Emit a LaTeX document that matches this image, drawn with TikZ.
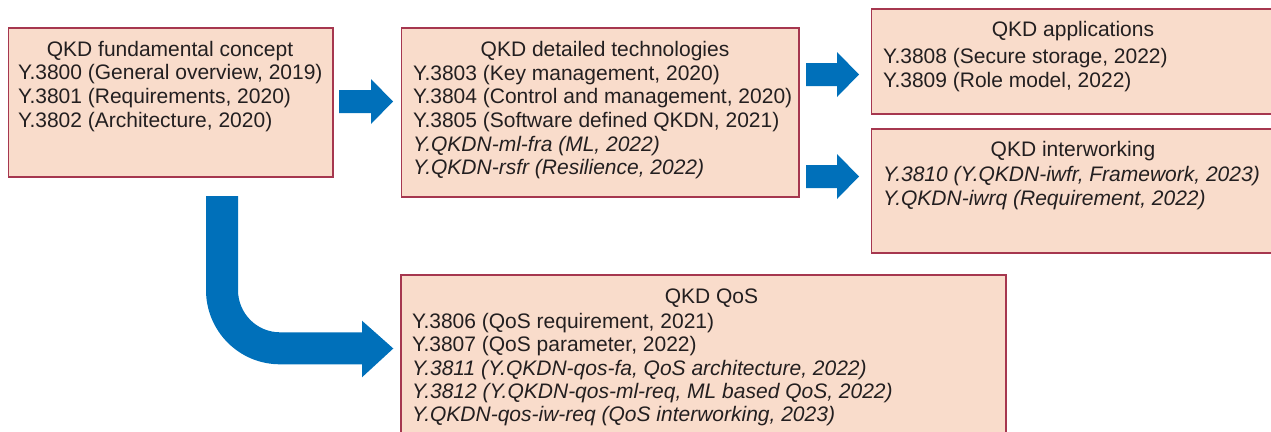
\documentclass[tikz,border=0pt]{standalone}
\usepackage{fontspec}
\setmainfont{Liberation Sans}
\definecolor{qblue}{RGB}{0,112,186}
\definecolor{qfill}{RGB}{249,220,203}
\definecolor{qborder}{RGB}{166,55,79}
\definecolor{qtext}{RGB}{35,31,32}
\begin{document}
\begin{tikzpicture}[x=1pt,y=-1pt,
  qbox/.style={draw=qborder, fill=qfill, line width=1.7pt, rectangle, anchor=north west, inner sep=0pt},
  ttl/.style={anchor=base, inner sep=0pt, text=qtext, font=\fontsize{21}{24}\selectfont},
  ln/.style={anchor=base west, inner sep=0pt, text=qtext, font=\fontsize{21}{24}\selectfont},
  itl/.style={ln, font=\fontsize{21}{24}\selectfont\itshape},
  blockarrow/.style={fill=qblue, draw=none}]
\useasboundingbox (0,0) rectangle (1271,431);
\clip (0,0) rectangle (1271,431);
% boxes
\node[qbox, minimum width=324.5pt, minimum height=149pt] (b1) at (7.5,27) {};
\node[qbox, minimum width=397.3pt, minimum height=169pt] (b2) at (400.7,27) {};
\node[qbox, minimum width=410pt, minimum height=105pt] (b3) at (870.7,8.3) {};
\node[qbox, minimum width=410pt, minimum height=124pt] (b4) at (870.7,128.3) {};
\node[qbox, minimum width=605pt, minimum height=175pt] (b5) at (400.3,274) {};
% box 1 text
\node[ttl] (t1) at (170,56) {QKD fundamental concept};
\node[ln] (t1a) at (18,79.7) {Y.3800 (General overview, 2019)};
\node[ln] (t1b) at (18,103.4) {Y.3801 (Requirements, 2020)};
\node[ln] (t1c) at (18,127.1) {Y.3802 (Architecture, 2020)};
% box 2 text
\node[ttl] (t2) at (605,56) {QKD detailed technologies};
\node[ln] (t2a) at (413,80) {Y.3803 (Key management, 2020)};
\node[ln] (t2b) at (413,103.5) {Y.3804 (Control and management, 2020)};
\node[ln] (t2c) at (413,127.2) {Y.3805 (Software defined QKDN, 2021)};
\node[itl] (t2d) at (413,151) {Y.QKDN-ml-fra (ML, 2022)};
\node[itl] (t2e) at (413,174.8) {Y.QKDN-rsfr (Resilience, 2022)};
% box 3 text
\node[ttl] (t3) at (1073,36.8) {QKD applications};
\node[ln] (t3a) at (883,63.3) {Y.3808 (Secure storage, 2022)};
\node[ln] (t3b) at (883,87.2) {Y.3809 (Role model, 2022)};
% box 4 text
\node[ttl] (t4) at (1073,156.8) {QKD interworking};
\node[itl] (t4a) at (883,181.3) {Y.3810 (Y.QKDN-iwfr, Framework, 2023)};
\node[itl] (t4b) at (883,205) {Y.QKDN-iwrq (Requirement, 2022)};
% box 5 text
\node[ttl] (t5) at (711.5,303.5) {QKD QoS};
\node[ln] (t5a) at (412,328) {Y.3806 (QoS requirement, 2021)};
\node[ln] (t5b) at (412,351.5) {Y.3807 (QoS parameter, 2022)};
\node[itl] (t5c) at (412,375) {Y.3811 (Y.QKDN-qos-fa, QoS architecture, 2022)};
\node[itl] (t5d) at (412,398.3) {Y.3812 (Y.QKDN-qos-ml-req, ML based QoS, 2022)};
\node[itl] (t5e) at (412,421.5) {Y.QKDN-qos-iw-req (QoS interworking, 2023)};
% block arrows
\fill[blockarrow] (339,90) -- (371,90) -- (371,79) -- (393,101.5) -- (371,124) -- (371,113) -- (339,113) -- cycle;
\fill[blockarrow] (806,63) -- (837,63) -- (837,52) -- (859,74.5) -- (837,97) -- (837,86) -- (806,86) -- cycle;
\fill[blockarrow] (806,165) -- (837,165) -- (837,154) -- (859,176.5) -- (837,199) -- (837,188) -- (806,188) -- cycle;
\fill[blockarrow] (206,196) -- (238,196) -- (238,290)
  .. controls (238,313.4) and (256.8,332.3) .. (280,332.3)
  -- (362,332.3) -- (362,320.7) -- (393.3,348.5) -- (362,377.3) -- (362,364.3) -- (280,364.3)
  .. controls (239.1,364.3) and (206,331.2) .. (206,290) -- cycle;
\end{tikzpicture}
\end{document}
